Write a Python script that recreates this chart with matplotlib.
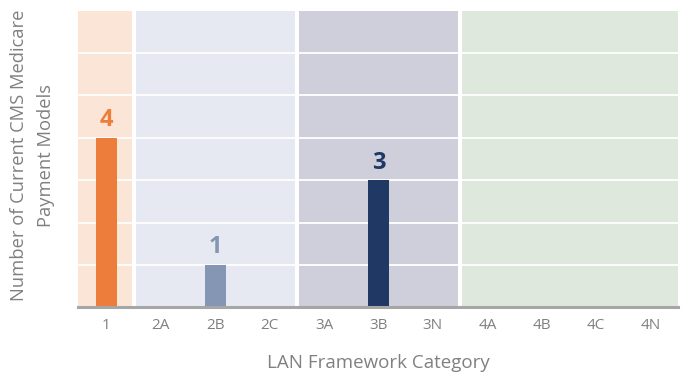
import numpy as np
import matplotlib.pyplot as plt

# data
categories = ['1', '2A', '2B', '2C', '3A', '3B', '3N', '4A', '4B', '4C', '4N']
counts = [4, 0, 1, 0, 0, 3, 0, 0, 0, 0, 0]
group_of = ['1', '2', '2', '2', '3', '3', '3', '4', '4', '4', '4']

bar_colors = {'1': '#ed7d3a', '2': '#8496b4', '3': '#1f3864', '4': '#70ad47'}
band_colors = {'1': '#fbe5d6', '2': '#e6e9f1', '3': '#cfcfdc', '4': '#dee8dc'}

plt.rcParams['font.family'] = ['Open Sans', 'DejaVu Sans']

fig = plt.figure(figsize=(6.86, 3.77), dpi=100)
ax = fig.add_axes([0.1141, 0.1849, 0.8747, 0.7867])
ax.set_facecolor('white')

x = np.arange(len(categories))

# background bands, one per LAN group, with a small white gap between
gap = 0.035
groups = list(dict.fromkeys(group_of))
for g in groups:
    idx = [i for i, gg in enumerate(group_of) if gg == g]
    lo = idx[0] - 0.5 + (gap if idx[0] > 0 else -0.1)
    hi = idx[-1] + 0.5 - (gap if idx[-1] < len(categories) - 1 else -0.1)
    ax.axvspan(lo, hi, color=band_colors[g], lw=0, zorder=0)

# white horizontal grid
for yv in range(1, 7):
    ax.axhline(yv, color='white', lw=1.3, zorder=1)

colors = [bar_colors[g] for g in group_of]
bars = ax.bar(x, counts, width=0.39, color=colors, zorder=2)

for xi, c, col in zip(x, counts, colors):
    if c > 0:
        ax.annotate(str(c), (xi, c), xytext=(0, 4), textcoords='offset points',
                    ha='center', va='bottom', fontsize=17, fontweight='bold',
                    color=col)

ax.set_xlim(-0.517, 10.51)
ax.set_ylim(0, 7)
ax.set_xticks(x)
ax.set_xticklabels(categories)
ax.set_yticks([])
ax.tick_params(axis='x', length=0, pad=8, labelsize=11, labelcolor='#808080')

for side in ['top', 'right', 'left']:
    ax.spines[side].set_visible(False)
ax.spines['bottom'].set_color('#a6a6a6')
ax.spines['bottom'].set_linewidth(2.2)
ax.spines['bottom'].set_zorder(3)

ax.set_xlabel('LAN Framework Category', fontsize=13.5, color='#808080',
              labelpad=15)
fig.text(32.5 / 686, 0.5875, 'Number of Current CMS Medicare\nPayment Models',
         rotation=90, ha='center', va='center', multialignment='center',
         fontsize=13.2, color='#808080', linespacing=1.65)

fig.savefig('out.png', dpi=100)
